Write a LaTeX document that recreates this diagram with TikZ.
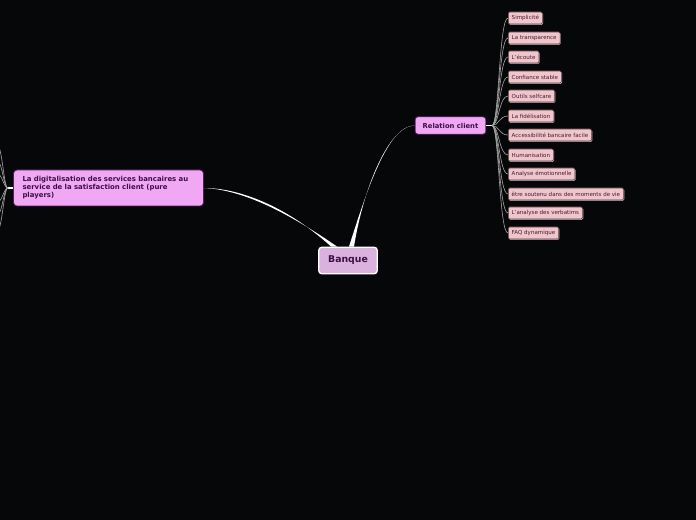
\documentclass[tikz,border=0pt]{standalone}
\usepackage{fontspec}
\setmainfont{DejaVu Sans}
\usepackage{xcolor}
\usepackage{tikz}
\usetikzlibrary{calc, shadows}

\definecolor{bgdark}{HTML}{060709}
\definecolor{banquefill}{HTML}{D9B3DE}
\definecolor{topicfill}{HTML}{F0A8F5}
\definecolor{plumline}{HTML}{5A1A60}
\definecolor{darkplum}{HTML}{3D0F45}
\definecolor{leaffill}{HTML}{EEC6CC}
\definecolor{leafline}{HTML}{5E3A42}
\definecolor{leaftext}{HTML}{4A1830}

\begin{document}
\begin{tikzpicture}[x=0.75pt, y=-0.75pt,
  centre/.style={draw=white, line width=0.9pt, rounded corners=2.5pt, fill=banquefill, text=darkplum, font=\fontsize{7}{8}\selectfont\bfseries, minimum width=44pt, minimum height=20pt},
  topic/.style={draw=plumline, line width=0.6pt, rounded corners=2pt, fill=topicfill, text=darkplum, font=\fontsize{5.1}{6}\selectfont\bfseries},
  leaf/.style={draw=leafline, line width=0.4pt, rounded corners=1pt, fill=leaffill, text=leaftext, font=\fontsize{4.15}{4.8}\selectfont, minimum height=9pt, inner xsep=2.6pt, inner ysep=0pt, anchor=west, drop shadow={shadow xshift=0.5pt, shadow yshift=-0.6pt, fill=gray!65, opacity=1}},
  branch/.style={gray!70, line width=0.45pt},
  trunk/.style={white, line width=1.1pt}
]
\clip (0,0) rectangle (696,520);
\fill[bgdark] (0,0) rectangle (696,520);

\node[centre] (banque) at (348,260.5) {Banque};
\node[topic, minimum width=53pt, minimum height=13pt] (relation) at (450.5,125.5) {Relation client};
\node[topic, font=\fontsize{5.2}{6}\selectfont\bfseries, text width=129pt, align=left, inner xsep=6.7pt, minimum height=27pt, rounded corners=2.5pt] (digital) at (108.5,188) {La digitalisation des services bancaires au\\service de la satisfaction client (pure\\players)};

% main branches
\fill[white] ($(banque.north)+(1,0)$) .. controls (367,190) and (388,125) .. (relation.west)
  .. controls (388,126) and (363,190) .. ($(banque.north)+(6,0)$) -- cycle;
\fill[white] ($(banque.north west)+(13,0)$) .. controls (290,209) and (242,188) .. (digital.east)
  .. controls (242,189.5) and (287,212) .. ($(banque.north west)+(19,0)$) -- cycle;

% leaves of Relation client
\coordinate (relfork) at (492,125.5);
\draw[trunk] (relation.east) -- (relfork);
\foreach \y/\name/\txt in {18/simple/Simplicité, 38/transp/La transparence, 57/ecoute/L'écoute,
  77/confiance/Confiance stable, 96/outils/Outils selfcare, 116/fidel/La fidélisation,
  135/access/Accessibilité bancaire facile, 155/human/Humanisation, 174/emotion/Analyse émotionnelle,
  194/soutenu/être soutenu dans des moments de vie, 213/verbatim/L'analyse des verbatims, 233/faq/FAQ dynamique}
{
  \node[leaf] (\name) at (508,\y) {\txt};
  \draw[branch] (relfork) .. controls (499,125.5) and (499,\y) .. (\name.west);
}

% branches leaving the page on the left
\coordinate (leftfork) at (8,188);
\draw[trunk] (digital.west) -- (leftfork);
\foreach \y in {140,158,172,204,218,236}
  \draw[branch] (leftfork) .. controls (3,188) and (3,\y) .. (-6,\y);
\end{tikzpicture}
\end{document}
